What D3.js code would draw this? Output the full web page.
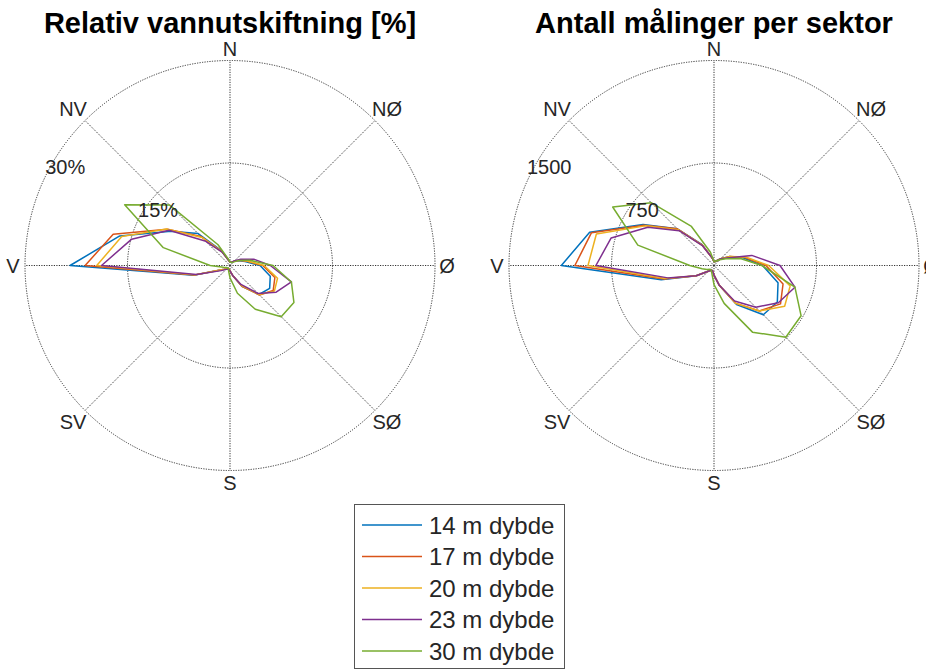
<!DOCTYPE html>
<html>
<head>
<meta charset="utf-8">
<script src="https://cdn.jsdelivr.net/npm/d3@7"></script>
<style>
  html, body { margin: 0; padding: 0; background: #fff; }
  svg { display: block; font-family: "Liberation Sans", Arial, sans-serif; }
</style>
</head>
<body>
<svg id="chart" width="926" height="670"></svg>
<script>
// ---------- data ----------
const angles = [0,15,30,45,60,75,90,105,120,135,150,165,180,195,210,225,240,255,270,285,300,315,330,345];
const seriesNames = ["14 m dybde","17 m dybde","20 m dybde","23 m dybde","30 m dybde"];
const seriesColors = ["#0072BD","#D95319","#EDB120","#7E2F8E","#77AC30"];
const directionLabels = ["N","NØ","Ø","SØ","S","SV","V","NV"];
const directionAngles = [0,45,90,135,180,225,270,315];

// Relativ vannutskiftning [%]
const exch14 = [0.5,0.5,0.6,0.9,1.4,2.3,4.4,6.1,6.7,6.0,3.5,1.5,0.8,0.5,0.5,0.6,1.2,5.5,23.4,16.7,10.0,6.6,2.5,0.8];
const exch17 = [0.5,0.5,0.6,0.9,1.5,2.5,4.8,6.8,7.3,6.1,3.5,1.5,0.8,0.5,0.5,0.6,1.2,5.4,21.2,17.7,10.6,6.0,2.4,0.8];
const exch20 = [0.5,0.5,0.6,0.9,1.5,2.6,5.0,7.2,7.5,6.0,3.4,1.5,0.8,0.5,0.5,0.6,1.2,5.3,19.5,16.4,10.7,5.8,2.3,0.8];
const exch23 = [0.5,0.5,0.6,1.0,1.8,3.6,5.9,9.3,7.8,5.8,3.2,1.5,0.8,0.6,0.6,0.8,1.5,5.1,18.8,14.9,10.3,5.0,2.2,0.8];
const exch30 = [0.5,0.5,0.5,0.7,1.5,3.0,6.3,9.3,10.8,10.6,7.4,4.2,1.8,0.8,0.5,0.5,0.6,1.0,2.9,10.1,17.8,12.5,3.5,1.0];
const exchTicks = [15, 30];
const exchTickLabels = ["15%", "30%"];

// Antall målinger per sektor
const count14 = [30,30,40,70,130,220,355,485,535,510,330,150,70,40,40,60,150,400,1117,942,599,380,178,60];
const count17 = [30,30,40,70,130,230,380,523,562,470,320,150,70,40,40,60,150,380,1018,928,590,380,175,60];
const count20 = [30,30,40,70,130,240,400,577,597,470,320,150,70,40,40,60,150,370,922,891,580,370,170,60];
const count23 = [30,30,40,70,110,286,483,613,544,432,300,150,70,40,40,60,150,350,864,779,559,360,165,60];
const count30 = [30,30,40,60,100,200,350,613,736,743,563,287,140,60,40,40,60,90,177,577,856,650,330,100];
const countTicks = [750, 1500];
const countTickLabels = ["750", "1500"];

const titles = ["Relativ vannutskiftning [%]", "Antall målinger per sektor"];

// ---------- drawing ----------
const svg = d3.select("#chart");
const R = 205;

function polarPanel(cx, cy, title, rMax, ticks, tickLabels, seriesList) {
  const g = svg.append("g").attr("transform", `translate(${cx},${cy})`);
  const r = d3.scaleLinear().domain([0, rMax]).range([0, R]);
  const rad = d => d * Math.PI / 180;
  const px = (a, rr) => rr * Math.sin(rad(a));
  const py = (a, rr) => -rr * Math.cos(rad(a));

  g.selectAll("circle.grid").data(ticks).enter().append("circle")
    .attr("r", d => r(d)).attr("fill", "none")
    .attr("stroke", "#333").attr("stroke-width", 1).attr("stroke-dasharray", "1.2,1.3");
  g.selectAll("line.spoke").data(directionAngles).enter().append("line")
    .attr("x1", 0).attr("y1", 0)
    .attr("x2", d => px(d, r(rMax))).attr("y2", d => py(d, r(rMax)))
    .attr("stroke", "#333").attr("stroke-width", 1).attr("stroke-dasharray", "1.2,1.3");

  const line = d3.lineRadial()
    .angle((d, i) => rad(angles[i]))
    .radius(d => r(d))
    .curve(d3.curveLinearClosed);
  seriesList.forEach((vals, k) => {
    g.append("path").attr("d", line(vals)).attr("fill", "none")
      .attr("stroke", seriesColors[k]).attr("stroke-width", 1.5)
      .attr("stroke-linejoin", "round");
  });

  g.selectAll("text.dir").data(directionLabels).enter().append("text")
    .attr("x", (d, i) => px(directionAngles[i], r(rMax) + (directionAngles[i] % 90 === 0 ? 12 : 17)))
    .attr("y", (d, i) => py(directionAngles[i], r(rMax) + (directionAngles[i] % 90 === 0 ? 12 : 17)))
    .attr("text-anchor", "middle").attr("dominant-baseline", "central")
    .attr("font-size", 20).attr("fill", "#262626").text(d => d);

  g.selectAll("text.rt").data(ticks).enter().append("text")
    .attr("x", d => px(295, r(d)) + 21)
    .attr("y", d => py(295, r(d)) - 12)
    .attr("text-anchor", "middle").attr("dominant-baseline", "central")
    .attr("font-size", 20).attr("fill", "#262626")
    .text((d, i) => tickLabels[i]);

  svg.append("text").attr("x", cx).attr("y", 33)
    .attr("text-anchor", "middle").attr("font-size", 29).attr("font-weight", "bold")
    .attr("fill", "#000").text(title);
}

polarPanel(230, 265.5, titles[0], 30, exchTicks, exchTickLabels, [exch14, exch17, exch20, exch23, exch30]);
polarPanel(714, 265.5, titles[1], 1500, countTicks, countTickLabels, [count14, count17, count20, count23, count30]);

// legend
const lg = svg.append("g").attr("transform", "translate(354,504)");
lg.append("rect").attr("x", 0.5).attr("y", 0.5).attr("width", 210).attr("height", 164)
  .attr("fill", "#fff").attr("stroke", "#555").attr("stroke-width", 1);
const rows = lg.selectAll("g.row").data(seriesNames).enter().append("g")
  .attr("transform", (d, i) => `translate(0,${21 + i * 31.5})`);
rows.append("line").attr("x1", 8).attr("x2", 68).attr("y1", 0).attr("y2", 0)
  .attr("stroke", (d, i) => seriesColors[i]).attr("stroke-width", 1.5);
rows.append("text").attr("x", 75).attr("y", 0).attr("dominant-baseline", "central")
  .attr("font-size", 24).attr("fill", "#262626").text(d => d);
</script>
</body>
</html>
